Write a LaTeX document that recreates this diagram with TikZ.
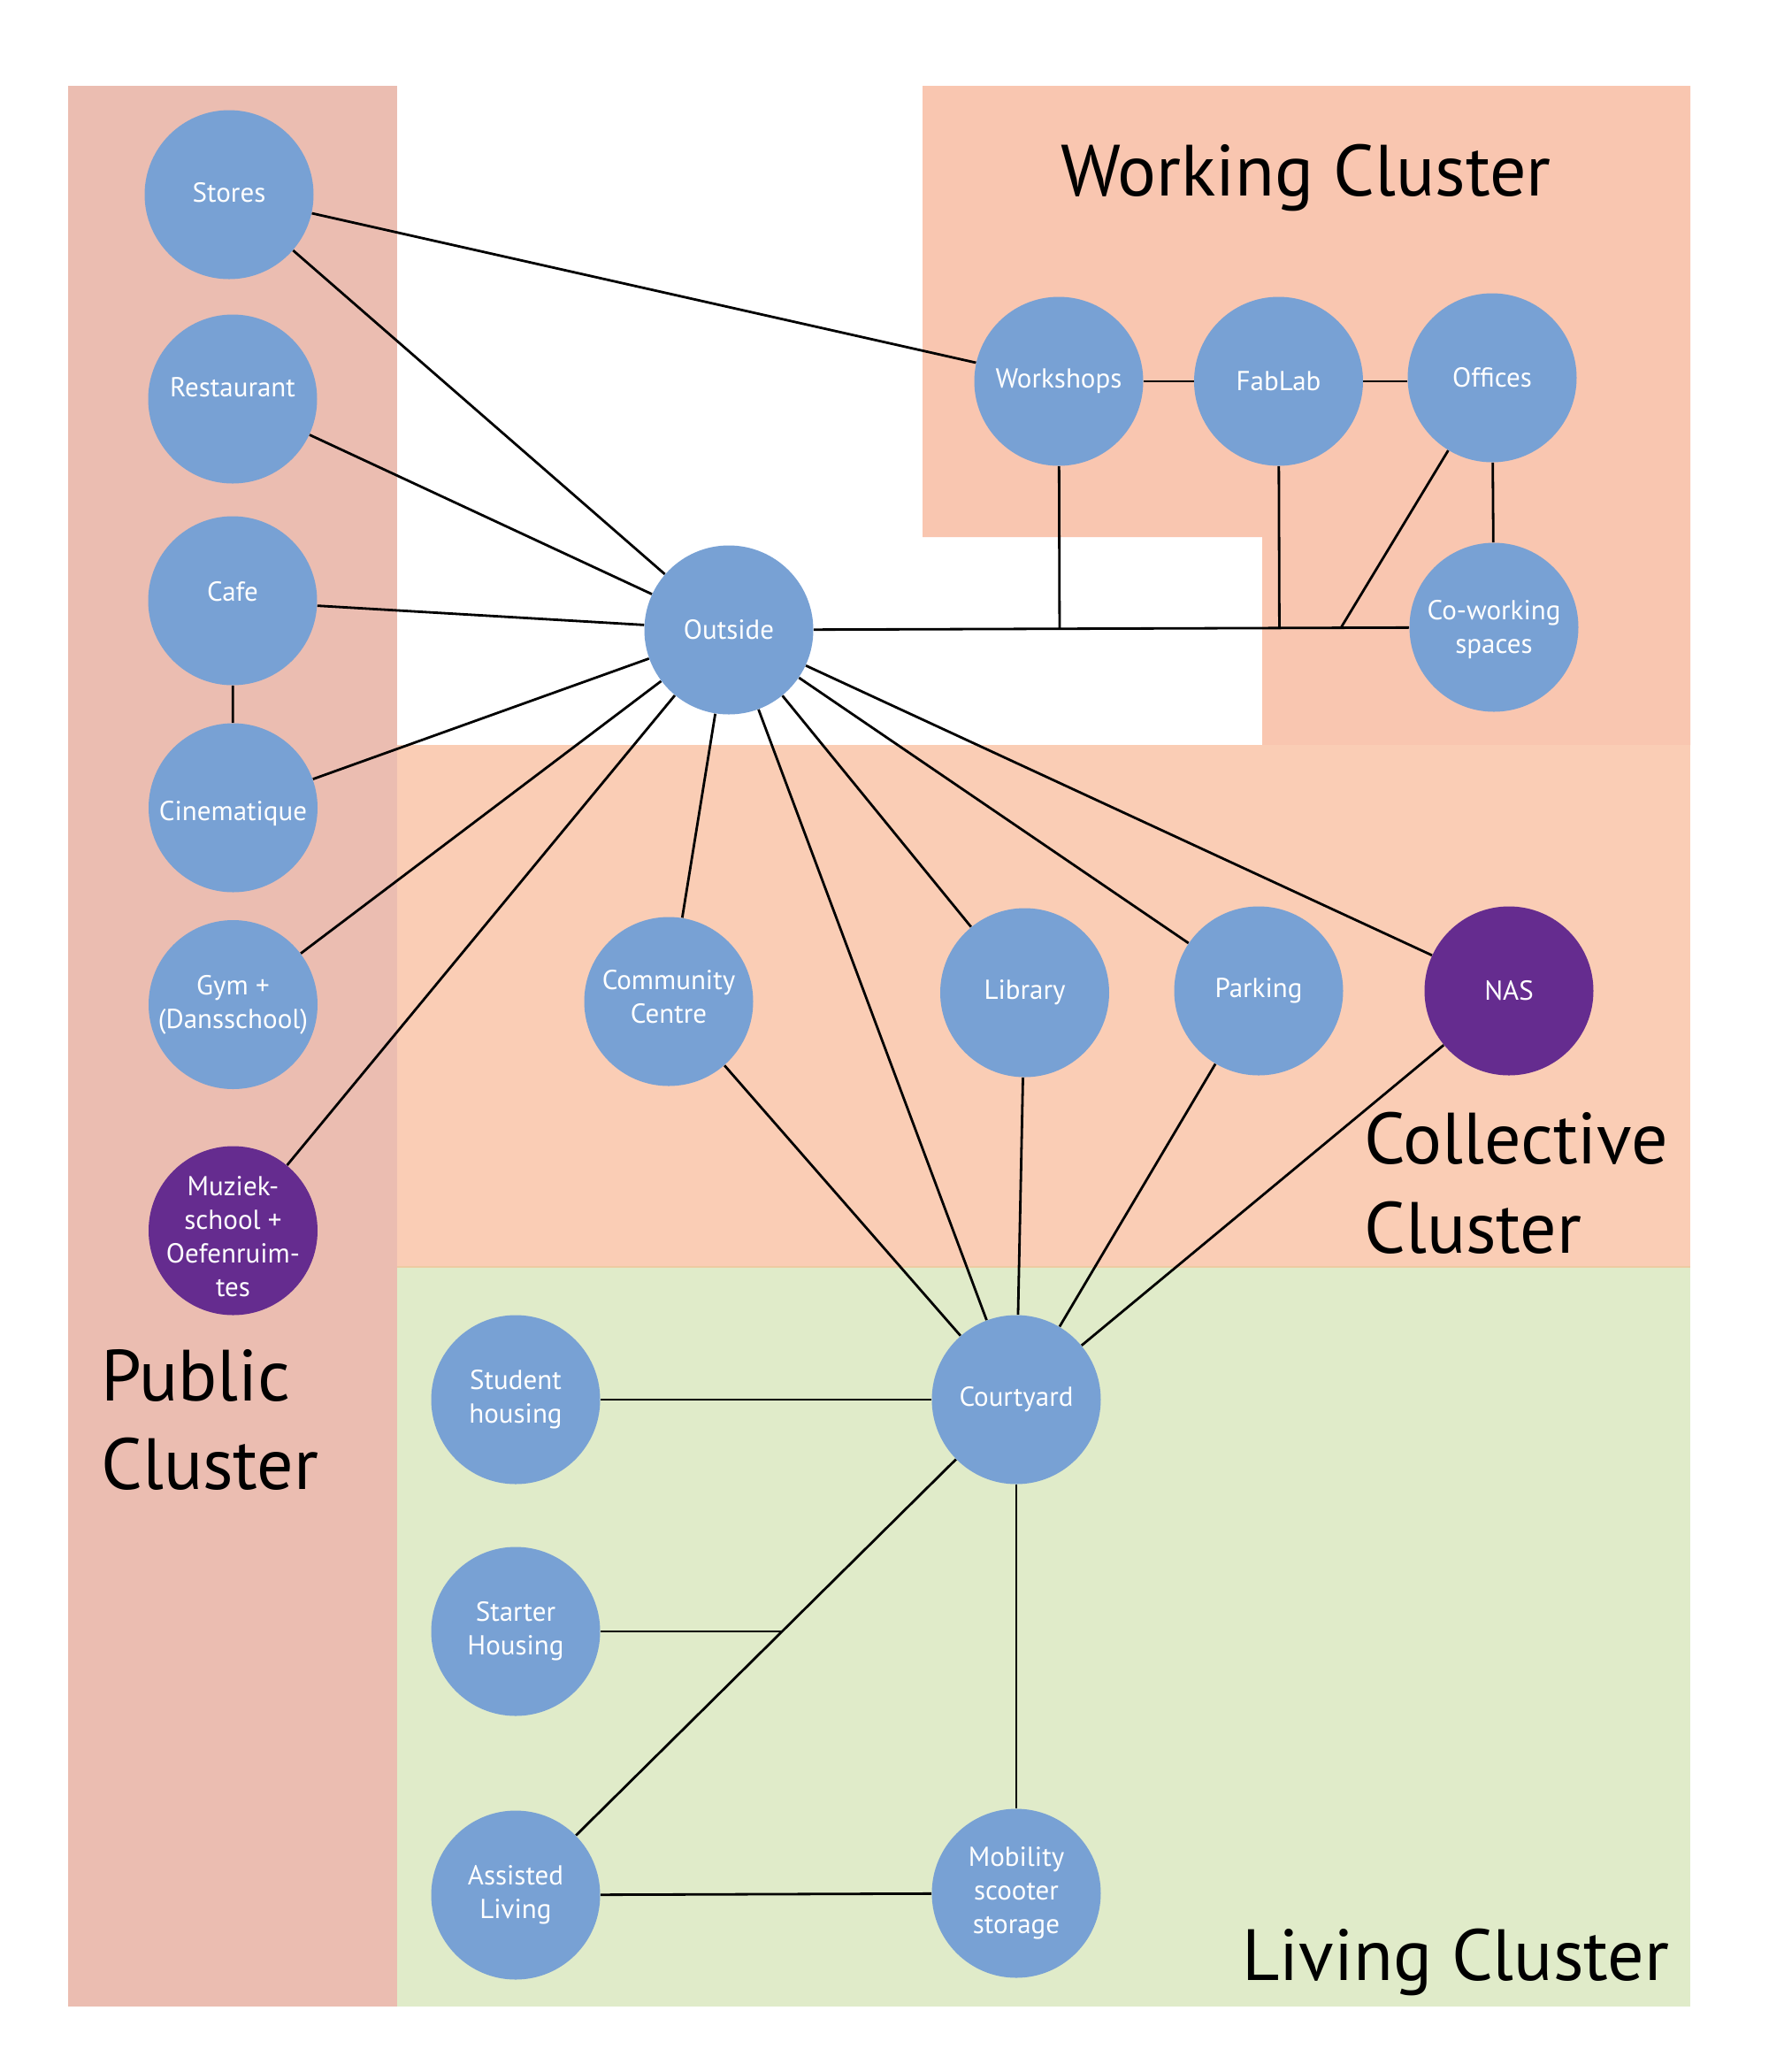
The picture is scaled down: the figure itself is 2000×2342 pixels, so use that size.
\documentclass[tikz,border=0pt]{standalone}
\usepackage{fontspec}
\setmainfont{PT Sans}
\usetikzlibrary{calc}
\definecolor{pubc}{HTML}{EBBDB1}
\definecolor{workc}{HTML}{F9C6B0}
\definecolor{collc}{HTML}{FACDB5}
\definecolor{livc}{HTML}{E0EBC9}
\definecolor{edgec}{HTML}{EDCBA2}
\definecolor{nodeblue}{HTML}{78A1D4}
\definecolor{nodepurple}{HTML}{652C8F}
\pgfdeclarelayer{back}
\pgfdeclarelayer{mid}
\pgfsetlayers{back,mid,main}
\newcommand{\lift}[1]{\rule[-#1]{0pt}{0pt}}
\newcommand{\drop}[1]{\rule{0pt}{#1}}
\begin{document}
\begin{tikzpicture}[x=0.5pt,y=-0.5pt,
  place/.style={circle,fill=nodeblue,text=white,minimum size=95.5pt,inner sep=0pt,align=center,font=\fontsize{15.5}{19}\selectfont},
  special/.style={place,fill=nodepurple},
  link/.style={draw=black,line width=1.4pt},
  title/.style={anchor=base west,inner sep=0pt,font=\fontsize{41}{50}\selectfont}]
\useasboundingbox (0,0) rectangle (2000,2342);
\begin{pgfonlayer}{back}
\fill[white] (0,0) rectangle (2000,2342);
\fill[pubc] (77,97) rectangle (449,2268);
\fill[workc] (1043,97) -- (1911,97) -- (1911,842) -- (1427,842) -- (1427,607) -- (1043,607) -- cycle;
\fill[collc] (449,842) rectangle (1911,1432);
\fill[livc] (449,1432) rectangle (1911,2268);
\draw[edgec,line width=1pt] (449,1432) -- (1911,1432);
\end{pgfonlayer}

% nodes
\node[place] (stores) at (259,220) {Stores\lift{3pt}};
\node[place] (rest) at (263,451) {Restaurant\lift{13.5pt}};
\node[place] (cafe) at (263,679) {Cafe\lift{10.8pt}};
\node[place] (cine) at (263.5,913) {\drop{17.5pt}Cinematique};
\node[place] (gym) at (263.5,1135.5) {Gym +\\(Dansschool)};
\node[special,inner sep=-4pt] (muz) at (263.5,1391) {\drop{18pt}Muziek-\\school +\\Oefenruim-\\tes};
\node[place] (outside) at (824,712) {Outside};
\node[place] (wk) at (1197,431) {Workshops};
\node[place] (fab) at (1445.5,431) {FabLab};
\node[place] (off) at (1687,427) {Offices};
\node[place] (cow) at (1689,709) {\drop{14pt}Co-working\\spaces};
\node[place] (comm) at (756,1132) {Community\\Centre\lift{6pt}};
\node[place] (lib) at (1158.5,1122) {Library};
\node[place] (park) at (1423,1120) {Parking};
\node[special] (nas) at (1706,1120) {NAS};
\node[place] (court) at (1149,1582) {Courtyard};
\node[place] (stud) at (583,1582) {Student\\housing};
\node[place] (start) at (583,1844) {Starter\\Housing};
\node[place] (assist) at (583,2142) {Assisted\\Living};
\node[place] (mob) at (1149,2140) {Mobility\\scooter\\storage};

% titles
\node[title] (tWork) at (1199,221) {Working Cluster};
\node[title] (tColl1) at (1542,1315) {Collective};
\node[title] (tColl2) at (1542,1416) {Cluster};
\node[title] (tPub1) at (114,1583) {Public};
\node[title] (tPub2) at (114,1683) {Cluster};
\node[title] (tLiv) at (1404,2238) {Living Cluster};

% junctions
\coordinate (j1) at ($(outside)!(wk)!(cow)$);
\coordinate (j2) at ($(outside)!(fab)!(cow)$);
\coordinate (j3) at ($(outside)!0.8!(cow)$);
\coordinate (j4) at ($(court)!0.468!(assist)$);

\begin{pgfonlayer}{mid}
\draw[link] (stores) -- (wk);
\draw[link] (stores) -- (outside);
\draw[link] (rest) -- (outside);
\draw[link] (cafe) -- (outside);
\draw[link] (cafe) -- (cine);
\draw[link] (cine) -- (outside);
\draw[link] (gym) -- (outside);
\draw[link] (muz) -- (outside);
\draw[link] (wk) -- (fab);
\draw[link] (fab.east) -- (fab.east -| off.west);
\draw[link] (off) -- (cow);
\draw[link] (outside) -- (cow);
\draw[link] (wk) -- (j1);
\draw[link] (fab) -- (j2);
\draw[link] (off) -- (j3);
\draw[link] (outside) -- (comm);
\draw[link] (outside) -- (lib);
\draw[link] (outside) -- (park);
\draw[link] (outside) -- (nas);
\draw[link] (outside) -- (court);
\draw[link] (comm) -- (court);
\draw[link] (lib) -- (court);
\draw[link] (park) -- (court);
\draw[link] (nas) -- (court);
\draw[link] (court) -- (stud);
\draw[link] (court) -- (mob);
\draw[link] (court) -- (assist);
\draw[link] (start) -- (start -| j4);
\draw[link] (assist) -- (mob);
\end{pgfonlayer}
\end{tikzpicture}
\end{document}
